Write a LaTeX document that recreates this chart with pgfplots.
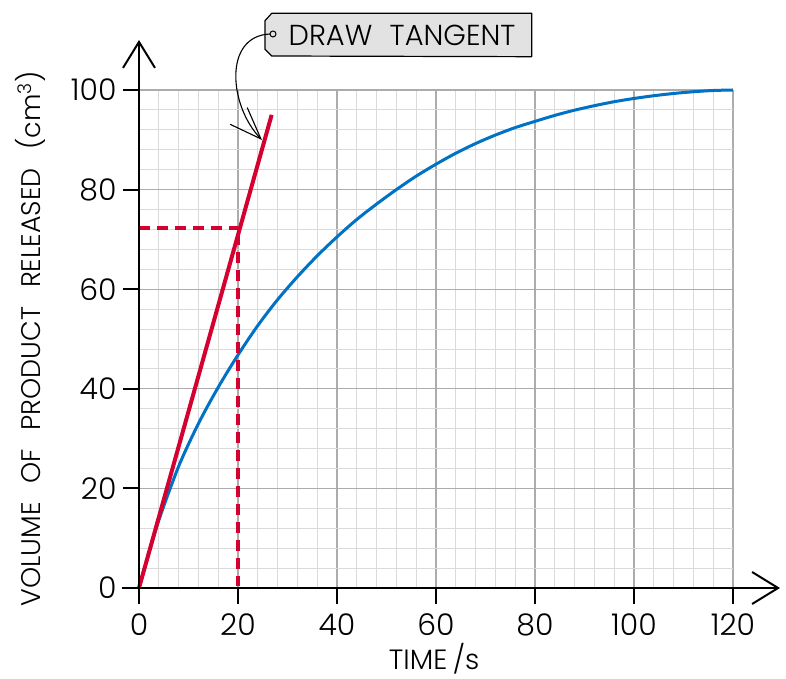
\documentclass[border=0pt]{standalone}
\usepackage{fontspec}
\setmainfont{Poppins}[UprightFont={* Light}]
\usepackage{pgfplots}
\pgfplotsset{compat=1.18}
\usetikzlibrary{arrows.meta}

\definecolor{curveblue}{RGB}{0,114,198}
\definecolor{tanred}{RGB}{212,0,48}
\definecolor{gridmajor}{RGB}{172,172,172}
\definecolor{gridminor}{RGB}{218,218,218}
\definecolor{tagfill}{RGB}{226,226,226}

\newcommand{\wsp}{\hspace{0.7em}}

\begin{document}
\begin{tikzpicture}
\begin{axis}[
    scale only axis,
    width=594bp, height=498bp,
    xmin=0, xmax=120, ymin=0, ymax=100,
    axis lines=left,
    axis line style={draw=none,-},
    xtick={0,20,...,120}, ytick={0,20,...,100},
    minor x tick num=4, minor y tick num=4,
    grid=both,
    major grid style={gridmajor, line width=1.1bp},
    minor grid style={gridminor, line width=0.9bp},
    tick align=outside,
    major tick length=16bp, minor tick length=0pt,
    major tick style={black, line width=2bp},
    /pgf/number format/assume math mode=true,
    ticklabel style={font=\fontsize{30}{31}\selectfont},
    xticklabel style={yshift=-6bp},
    yticklabel style={xshift=-3bp},
    xlabel={TIME\hspace{0.2em}/s},
    ylabel={VOLUME\wsp OF\wsp PRODUCT\wsp RELEASED\wsp (cm\textsuperscript{3})},
    xlabel style={font=\fontsize{28}{29}\selectfont, inner sep=0pt, at={(axis description cs:0.497,-0.141)}, anchor=center},
    ylabel style={font=\fontsize{27}{28}\selectfont, inner sep=0pt, at={(axis description cs:-0.1835,0.5)}, anchor=center},
    clip=false,
]
% volume released over time
\addplot[curveblue, line width=3bp, smooth] coordinates {
    (0,0) (2,7) (4,13.6) (8,24.4) (12,33) (16,40.3) (20,46.8)
    (24,52.7) (28,57.9) (32,62.5) (36,66.7) (40,70.5)
    (44,74) (48,77.1) (52,80) (56,82.7) (60,85.1)
    (64,87.3) (68,89.25) (72,90.95) (76,92.45) (80,93.7)
    (84,94.9) (88,95.95) (92,96.85) (96,97.65) (100,98.3)
    (104,98.85) (108,99.3) (112,99.65) (116,99.9) (120,100)};
% tangent at t = 0
\addplot[tanred, line width=4bp] coordinates {(0,0) (26.8,95)};
% read-off lines
\addplot[tanred, line width=3.5bp, dash pattern=on 11bp off 7bp] coordinates {(0,72.3) (20,72.3)};
\addplot[tanred, line width=3.5bp, dash pattern=on 11bp off 7bp] coordinates {(20,71) (20,0.5)};
\end{axis}

% axes with open arrow heads
\draw[line width=2bp, -{Straight Barb[length=26bp,width=32bp,line width=2bp]}] (-17bp,0) -- (641bp,0);
\draw[line width=2bp, -{Straight Barb[length=26bp,width=32bp,line width=2bp]}] (0,-16bp) -- (0,548bp);

% label tag
\draw[line width=1.2bp, fill=tagfill, line join=round]
    (132.7bp,574.7bp) -- (392.7bp,574.7bp) -- (392.7bp,531.3bp)
    -- (132.7bp,532bp) -- (126bp,538.7bp) -- (126bp,567.3bp) -- cycle;
\draw[line width=1bp, fill=tagfill] (134bp,554bp) circle (3bp);
\node[font=\fontsize{29}{30}\selectfont] at (263bp,553bp) {DRAW\hspace{0.6em}TANGENT};
\draw[line width=1.1bp, -{Straight Barb[length=32bp,width=24bp,line width=1.1bp]}]
    (131bp,554bp) .. controls (84bp,552bp) and (90bp,482bp) .. (123bp,448bp);

\pgfresetboundingbox
\useasboundingbox (-139bp,-91bp) rectangle (647bp,588bp);
\end{tikzpicture}
\end{document}
